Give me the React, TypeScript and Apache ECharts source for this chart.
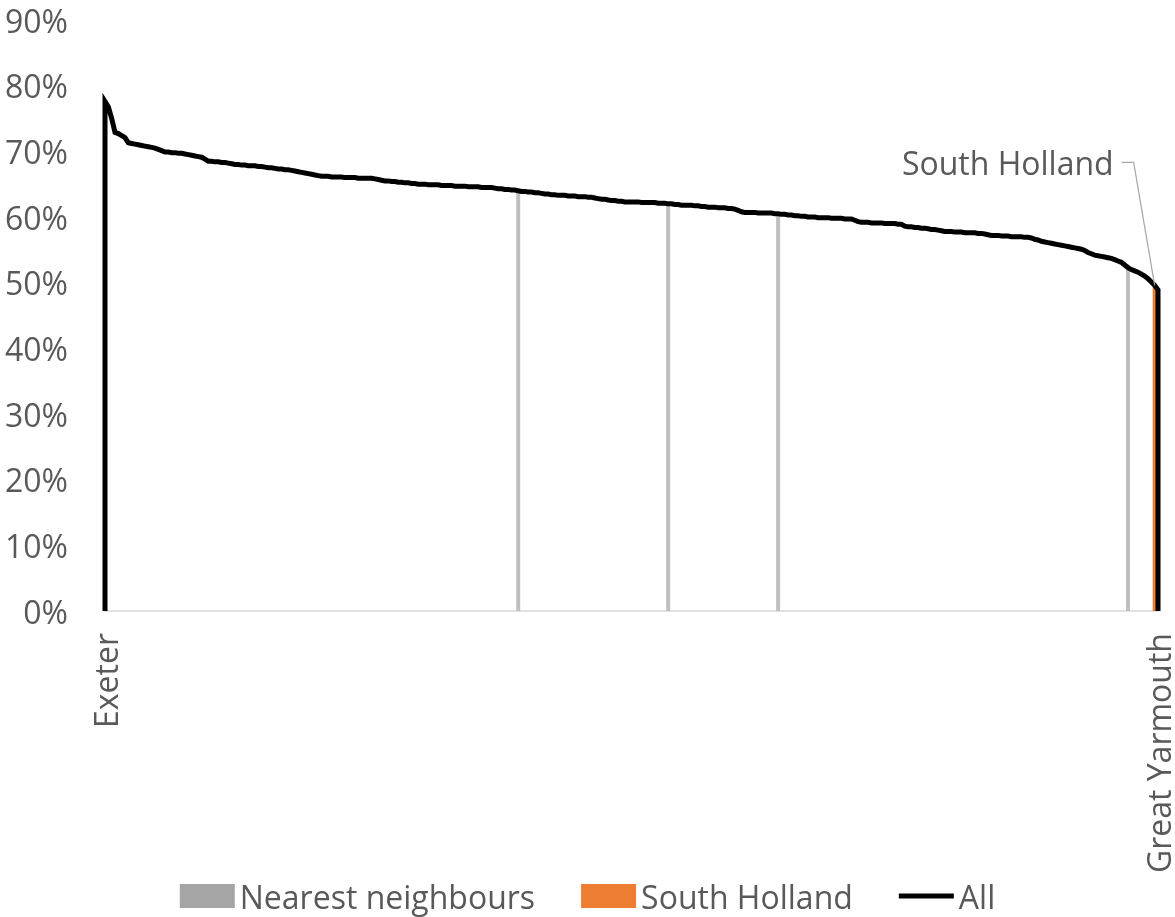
import React, { useEffect, useRef } from "react";
import * as echarts from "echarts";

// Share per local authority, ranked from highest to lowest (percent)
const allValues: number[] = [
  77.6, 76.8, 75.0, 72.9, 72.7, 72.4, 72.1, 71.3, 71.2, 71.1,
  71.0, 70.9, 70.8, 70.7, 70.6, 70.5, 70.3, 70.1, 69.9, 69.9,
  69.8, 69.8, 69.7, 69.7, 69.6, 69.5, 69.4, 69.3, 69.2, 69.1,
  68.8, 68.5, 68.5, 68.4, 68.4, 68.3, 68.3, 68.2, 68.1, 68.0,
  68.0, 67.9, 67.9, 67.8, 67.8, 67.8, 67.7, 67.7, 67.6, 67.5,
  67.5, 67.4, 67.3, 67.3, 67.2, 67.2, 67.1, 67.0, 66.9, 66.8,
  66.7, 66.6, 66.5, 66.4, 66.3, 66.2, 66.2, 66.2, 66.1, 66.1,
  66.1, 66.1, 66.0, 66.0, 66.0, 66.0, 65.9, 65.9, 65.9, 65.9,
  65.9, 65.8, 65.7, 65.6, 65.5, 65.5, 65.4, 65.4, 65.3, 65.3,
  65.2, 65.2, 65.1, 65.1, 65.0, 65.0, 65.0, 64.9, 64.9, 64.9,
  64.9, 64.8, 64.8, 64.8, 64.8, 64.7, 64.7, 64.7, 64.7, 64.6,
  64.6, 64.6, 64.6, 64.5, 64.5, 64.5, 64.5, 64.4, 64.3, 64.3,
  64.2, 64.2, 64.1, 64.1, 64.0, 63.9, 63.9, 63.8, 63.8, 63.7,
  63.7, 63.6, 63.5, 63.5, 63.4, 63.4, 63.3, 63.3, 63.3, 63.2,
  63.2, 63.2, 63.1, 63.1, 63.1, 63.0, 63.0, 62.9, 62.8, 62.7,
  62.7, 62.6, 62.5, 62.5, 62.4, 62.4, 62.3, 62.3, 62.3, 62.3,
  62.3, 62.2, 62.2, 62.2, 62.2, 62.2, 62.1, 62.1, 62.1, 62.0,
  62.0, 61.9, 61.9, 61.8, 61.8, 61.8, 61.8, 61.7, 61.7, 61.6,
  61.6, 61.5, 61.5, 61.5, 61.4, 61.4, 61.4, 61.3, 61.3, 61.2,
  61.0, 60.8, 60.7, 60.7, 60.7, 60.7, 60.6, 60.6, 60.6, 60.6,
  60.6, 60.5, 60.5, 60.4, 60.4, 60.3, 60.3, 60.2, 60.2, 60.1,
  60.1, 60.0, 60.0, 60.0, 59.9, 59.9, 59.9, 59.9, 59.8, 59.8,
  59.8, 59.8, 59.7, 59.7, 59.7, 59.5, 59.3, 59.2, 59.2, 59.2,
  59.1, 59.1, 59.1, 59.1, 59.0, 59.0, 59.0, 59.0, 58.9, 58.9,
  58.6, 58.5, 58.5, 58.4, 58.4, 58.3, 58.3, 58.2, 58.1, 58.1,
  58.0, 57.9, 57.8, 57.8, 57.8, 57.7, 57.7, 57.7, 57.6, 57.6,
  57.6, 57.6, 57.5, 57.5, 57.4, 57.3, 57.2, 57.2, 57.2, 57.1,
  57.1, 57.1, 57.0, 57.0, 57.0, 57.0, 56.9, 56.9, 56.8, 56.6,
  56.5, 56.3, 56.2, 56.1, 56.0, 55.9, 55.8, 55.7, 55.6, 55.5,
  55.4, 55.3, 55.2, 55.1, 54.9, 54.6, 54.4, 54.2, 54.1, 54.0,
  53.9, 53.8, 53.7, 53.5, 53.3, 53.1, 52.7, 52.3, 52.0, 51.8,
  51.6, 51.3, 51.0, 50.6, 50.1, 49.6, 48.9,
];

const firstArea = "Exeter";
const lastArea = "Great Yarmouth";
const focusArea = "South Holland";
const focusIndex = 315;
const neighbourIndices: number[] = [124, 169, 202, 307];

const yTicks = { min: 0, max: 90, interval: 10 };

const TEXT = "#595959";
const FONT = "'Open Sans'";
const FONT_SIZE = 32;

export default function App() {
  const ref = useRef<HTMLDivElement>(null);

  useEffect(() => {
    if (!ref.current) return;
    const chart = echarts.init(ref.current, null, { renderer: "svg" });
    const last = allValues.length - 1;
    const categories = allValues.map((_, i) =>
      i === 0 ? firstArea : i === last ? lastArea : String(i + 1)
    );
    const neighbourData = allValues.map((v, i) =>
      neighbourIndices.includes(i) ? v : "-"
    );
    const focusData = allValues.map((v, i) => (i === focusIndex ? v : "-"));
    // Closed outline: rises from the axis at the first area, drops back at the last
    const lineData: [number, number][] = [
      [0, 0],
      ...allValues.map((v, i) => [i, v] as [number, number]),
      [last, 0],
    ];

    chart.setOption({
      animation: false,
      grid: { left: 105, right: 17, top: 20, bottom: 306 },
      legend: {
        left: "center",
        top: 873,
        itemGap: 46,
        itemWidth: 55,
        itemHeight: 24,
        textStyle: {
          color: TEXT,
          fontSize: FONT_SIZE,
          fontFamily: FONT,
          lineHeight: 36,
        },
        data: [
          {
            name: "Nearest neighbours",
            icon: "rect",
            itemStyle: { color: "#a5a5a5" },
          },
          { name: focusArea, icon: "rect", itemStyle: { color: "#ed7d31" } },
          { name: "All", icon: "path://M0,0 L55,0 L55,5 L0,5 Z" },
        ],
      },
      xAxis: {
        type: "category",
        data: categories,
        boundaryGap: false,
        axisLine: { lineStyle: { color: "#d9d9d9", width: 1.5 } },
        axisTick: { show: false },
        axisLabel: {
          interval: (index: number) => index === 0 || index === last,
          rotate: 90,
          color: TEXT,
          fontSize: FONT_SIZE,
          fontFamily: FONT,
          lineHeight: 30,
          margin: 22,
        },
      },
      yAxis: {
        type: "value",
        min: yTicks.min,
        max: yTicks.max,
        interval: yTicks.interval,
        axisLine: { show: false },
        axisTick: { show: false },
        splitLine: { show: false },
        axisLabel: {
          formatter: "{value}%",
          color: TEXT,
          fontSize: FONT_SIZE,
          fontFamily: FONT,
          margin: 37,
        },
      },
      series: [
        {
          name: "Nearest neighbours",
          type: "bar",
          data: neighbourData,
          barWidth: 4,
          barGap: "-100%",
          itemStyle: { color: "#bfbfbf" },
          z: 2,
        },
        {
          name: focusArea,
          type: "bar",
          data: focusData,
          barWidth: 4,
          barGap: "-100%",
          itemStyle: { color: "#ed7d31" },
          z: 2,
        },
        {
          name: "All",
          type: "line",
          data: lineData,
          symbol: "none",
          clip: false,
          lineStyle: { color: "#000000", width: 5, join: "miter" },
          itemStyle: { color: "#000000" },
          z: 3,
        },
      ],
    });

    // Callout for the focus area, anchored on its bar top
    const p = chart.convertToPixel({ xAxisIndex: 0, yAxisIndex: 0 }, [
      focusIndex,
      allValues[focusIndex],
    ]) as number[];
    const elbow = [p[0] - 21, p[1] - 123];
    chart.setOption({
      graphic: [
        {
          type: "polyline",
          shape: {
            points: [
              [p[0], p[1]],
              elbow,
              [elbow[0] - 12, elbow[1]],
            ],
          },
          style: { stroke: "#a6a6a6", lineWidth: 1.2, fill: null },
          z: 10,
        },
        {
          type: "text",
          x: elbow[0] - 20,
          y: elbow[1],
          style: {
            text: focusArea,
            fill: TEXT,
            font: `${FONT_SIZE}px ${FONT}`,
            align: "right",
            verticalAlign: "middle",
          },
          z: 10,
        },
      ],
    });

    return () => chart.dispose();
  }, []);

  return (
    <div
      ref={ref}
      style={{ position: "fixed", left: 0, top: 0, width: 1175, height: 917 }}
    />
  );
}
